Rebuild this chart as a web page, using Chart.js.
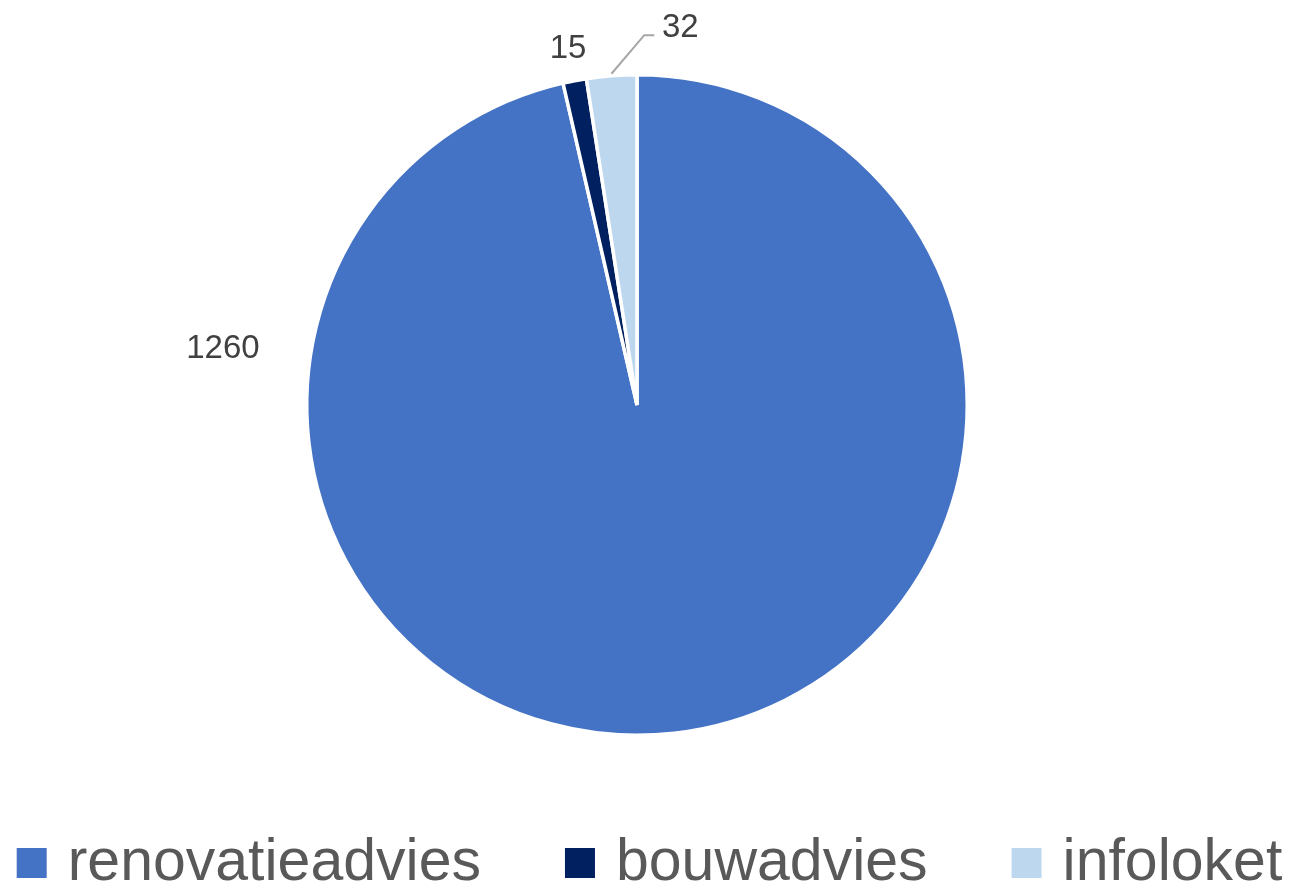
<!DOCTYPE html>
<html>
<head>
<meta charset="utf-8">
<script src="https://cdn.jsdelivr.net/npm/chart.js@4.4.0/dist/chart.umd.min.js"></script>
<style>
  html, body { margin: 0; padding: 0; background: #fff; }
</style>
</head>
<body>
<canvas id="pieChart" width="1291" height="889"></canvas>
<script>
// dados do gráfico
const categorias = ["renovatieadvies", "bouwadvies", "infoloket"];
const valores = [1260, 15, 32];
const cores = ["#4472C4", "#002060", "#BDD7EE"];

// posição dos rótulos (ângulo em graus, distância além do raio)
const rotuloAngulo = [188.1, null, 276.5];
const rotuloDist = [88, 35, 52];
const rotuloLinha = [false, false, true];

// rótulos de valor com linha de chamada
const rotulosPlugin = {
  id: "rotulos",
  afterDatasetsDraw(chart) {
    const ctx = chart.ctx;
    const meta = chart.getDatasetMeta(0);
    ctx.save();
    ctx.font = "33px 'Liberation Sans', Arial, sans-serif";
    ctx.fillStyle = "#404040";
    ctx.textAlign = "center";
    ctx.textBaseline = "alphabetic";
    meta.data.forEach((arc, i) => {
      const p = arc.getProps(["x", "y", "startAngle", "endAngle", "outerRadius"], true);
      const mid = (p.startAngle + p.endAngle) / 2;
      const ang = rotuloAngulo[i] !== null ? rotuloAngulo[i] * Math.PI / 180 : mid;
      const d = p.outerRadius + rotuloDist[i];
      const lx = p.x + Math.cos(ang) * d;
      const ly = p.y + Math.sin(ang) * d;
      if (rotuloLinha[i]) {
        ctx.strokeStyle = "#A6A6A6";
        ctx.lineWidth = 2;
        ctx.beginPath();
        ctx.moveTo(p.x + Math.cos(mid) * (p.outerRadius + 2), p.y + Math.sin(mid) * (p.outerRadius + 2));
        ctx.lineTo(lx - 36, ly + 10);
        ctx.lineTo(lx - 26, ly + 10);
        ctx.stroke();
      }
      ctx.fillText(String(valores[i]), lx, ly + 12);
    });
    ctx.restore();
  }
};

// legenda desenhada em baixo
const legendaPlugin = {
  id: "legenda",
  afterDraw(chart) {
    const ctx = chart.ctx;
    const box = 30, gap = 21, espaco = 84;
    ctx.save();
    ctx.font = "59px 'Liberation Sans', Arial, sans-serif";
    const larguras = categorias.map(c => ctx.measureText(c).width);
    const total = larguras.reduce((s, w) => s + box + gap + w, 0) + espaco * (categorias.length - 1);
    let x = (chart.width - total) / 2 + 4;
    const base = 880;
    categorias.forEach((c, i) => {
      ctx.fillStyle = cores[i];
      ctx.fillRect(x, base - 32, box, box);
      ctx.fillStyle = "#595959";
      ctx.textAlign = "left";
      ctx.textBaseline = "alphabetic";
      ctx.fillText(c, x + box + gap, base);
      x += box + gap + larguras[i] + espaco;
    });
    ctx.restore();
  }
};

const ctx = document.getElementById("pieChart").getContext("2d");
new Chart(ctx, {
  type: "pie",
  data: {
    labels: categorias,
    datasets: [{
      data: valores,
      backgroundColor: cores,
      borderColor: "#ffffff",
      borderWidth: 3.5
    }]
  },
  options: {
    responsive: false,
    animation: false,
    layout: { padding: { top: 73, bottom: 152, left: 0, right: 17 } },
    plugins: {
      legend: { display: false },
      tooltip: { enabled: false }
    }
  },
  plugins: [rotulosPlugin, legendaPlugin]
});
</script>
</body>
</html>
